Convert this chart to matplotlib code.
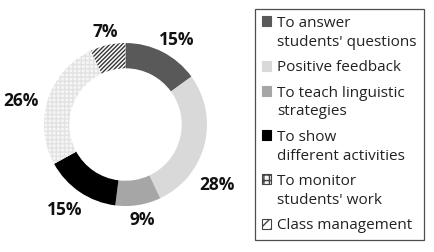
import numpy as np
import matplotlib.pyplot as plt
from matplotlib.patches import Patch, Rectangle
from matplotlib.legend_handler import HandlerPatch

plt.rcParams['font.family'] = ['Open Sans', 'DejaVu Sans']

labels = ["To answer\nstudents' questions", "Positive feedback",
          "To teach linguistic\nstrategies", "To show\ndifferent activities",
          "To monitor\nstudents' work", "Class management"]
values = [15, 28, 9, 15, 26, 7]
colors = ['#595959', '#d9d9d9', '#a6a6a6', '#000000', '#f6f6f6', '#ffffff']
hatches = [None, None, None, None, '++++', '////////']
hatch_colors = ['#595959', '#d9d9d9', '#a6a6a6', '#000000', '#e2e2e2', '#333333']
# label placement tweaks (radius factor, angle shift in degrees)
label_r = [1.21, 1.35, 1.19, 1.29, 1.31, 1.16]
label_shift = [-4, -19, 1, -1, 5, 0]

fig = plt.figure(figsize=(4.34, 2.52), dpi=100)
ax = fig.add_axes([0.0544, 0.1016, 0.4695, 0.8085])

wedges, texts, autotexts = ax.pie(
    values, colors=colors, startangle=90, counterclock=False,
    autopct='%d%%', pctdistance=1.24,
    wedgeprops=dict(width=0.31, linewidth=0),
    textprops=dict(fontsize=12.5, fontweight='bold', color='#111111'))
for w, h, hc in zip(wedges, hatches, hatch_colors):
    w.set_edgecolor(hc)
    if h:
        w.set_hatch(h)
for w, t, r, s in zip(wedges, autotexts, label_r, label_shift):
    ang = np.deg2rad((w.theta1 + w.theta2) / 2 + s)
    t.set_position((r * np.cos(ang), r * np.sin(ang)))
ax.set_aspect('equal')


def top_line_patch(nlines):
    # put the legend square next to the first line of a wrapped label
    shift = 8.5 * (nlines - 1)

    def make(legend, orig_handle, xdescent, ydescent, width, height, fontsize):
        return Rectangle((-xdescent, -ydescent + shift), width, height)
    return make


handles = []
handler_map = {}
for c, h, hc, lab in zip(colors, hatches, hatch_colors, labels):
    edge = '#444444' if h else c
    p = Patch(facecolor=c, edgecolor=edge, hatch=h[:3] if h else None,
              linewidth=0.8)
    handles.append(p)
    handler_map[p] = HandlerPatch(patch_func=top_line_patch(lab.count('\n') + 1))

leg = fig.legend(handles, labels, handler_map=handler_map, loc='upper left',
                 bbox_to_anchor=(0.588, 0.964), frameon=True, fancybox=False,
                 fontsize=11, handlelength=0.6, handleheight=0.6,
                 handletextpad=0.4, labelspacing=0.68, borderpad=0.45,
                 borderaxespad=0)
leg.get_frame().set_edgecolor('#222222')
leg.get_frame().set_linewidth(0.9)
for t in leg.get_texts():
    t.set_color('#222222')
    t.set_linespacing(1.35)

plt.savefig('out.png', dpi=100)
